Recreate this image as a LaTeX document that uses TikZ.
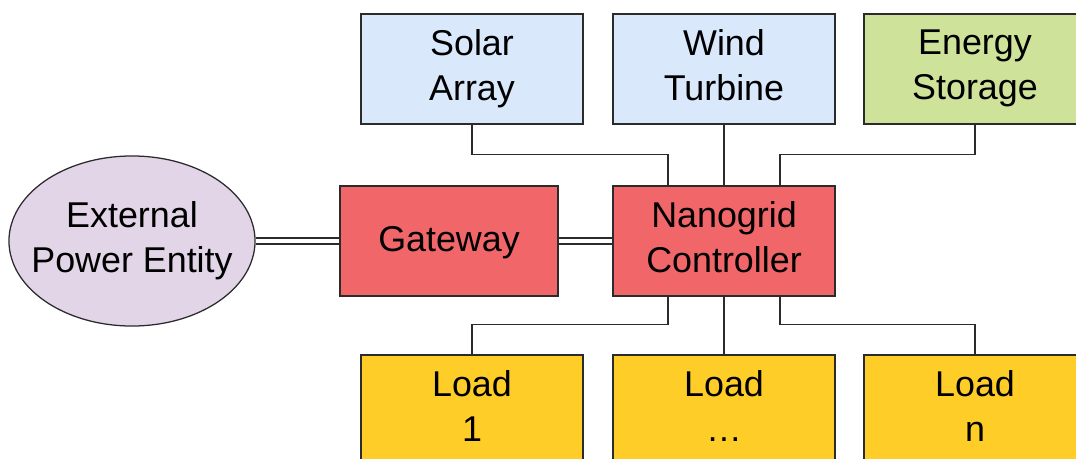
\documentclass[tikz,border=0pt]{standalone}
\usepackage{fontspec}
\setmainfont{Liberation Sans}
\usetikzlibrary{shapes.geometric}

\definecolor{srcblue}{HTML}{DAE8FC}
\definecolor{storegreen}{HTML}{CFE29A}
\definecolor{ctlred}{HTML}{F06669}
\definecolor{loadyellow}{HTML}{FFCD28}
\definecolor{extlilac}{HTML}{E1D5E7}
\definecolor{edge}{HTML}{2B2B2B}

\begin{document}
\begin{tikzpicture}[x=0.025cm, y=-0.025cm,
  box/.style={draw=edge, line width=0.9pt, minimum width=5.55cm, minimum height=2.75cm,
    inner sep=0pt, align=center, font=\fontsize{25.5}{32}\selectfont,
    execute at begin node=\rule{0pt}{25pt}, execute at end node=\rule[-6pt]{0pt}{6pt}},
  wire/.style={draw=edge, line width=0.9pt},
  link/.style={draw=edge, line width=1pt, double, double distance=3.4pt}]
\useasboundingbox (0,0) rectangle (1076,459);
\clip (0,0) rectangle (1076,459);
% sources
\node[box, fill=srcblue] (sol) at (472,69) {Solar\\Array};
\node[box, fill=srcblue] (wind) at (724,69) {Wind\\Turbine};
\node[box, fill=storegreen] (store) at (975,69) {Energy\\Storage};
% middle row
\node[box, ellipse, fill=extlilac, inner xsep=-0.45cm, minimum width=6.15cm, minimum height=4.25cm] (ext) at (132,241) {External\\Power Entity};
\node[box, fill=ctlred, minimum width=5.45cm, execute at begin node=\strut, execute at end node=\strut] (gat) at (449,241) {Gateway};
\node[box, fill=ctlred] (ctl) at (724,241) {Nanogrid\\Controller};
% loads
\node[box, fill=loadyellow] (load1) at (472,410) {Load\\1};
\node[box, fill=loadyellow] (load2) at (724,410) {Load\\\dots};
\node[box, fill=loadyellow] (loadn) at (975,410) {Load\\n};
% connections
\draw[link] (ext) -- (gat);
\draw[link] (gat) -- (ctl);
\draw[wire] (sol.south) |- ([xshift=-1.4cm, yshift=0.775cm]ctl.north) -- ([xshift=-1.4cm]ctl.north);
\draw[wire] (wind) -- (ctl);
\draw[wire] (store.south) |- ([xshift=1.4cm, yshift=0.775cm]ctl.north) -- ([xshift=1.4cm]ctl.north);
\draw[wire] ([xshift=-1.4cm]ctl.south) -- ([xshift=-1.4cm, yshift=-0.7cm]ctl.south) -| (load1.north);
\draw[wire] (ctl) -- (load2);
\draw[wire] ([xshift=1.4cm]ctl.south) -- ([xshift=1.4cm, yshift=-0.7cm]ctl.south) -| (loadn.north);
\end{tikzpicture}
\end{document}
